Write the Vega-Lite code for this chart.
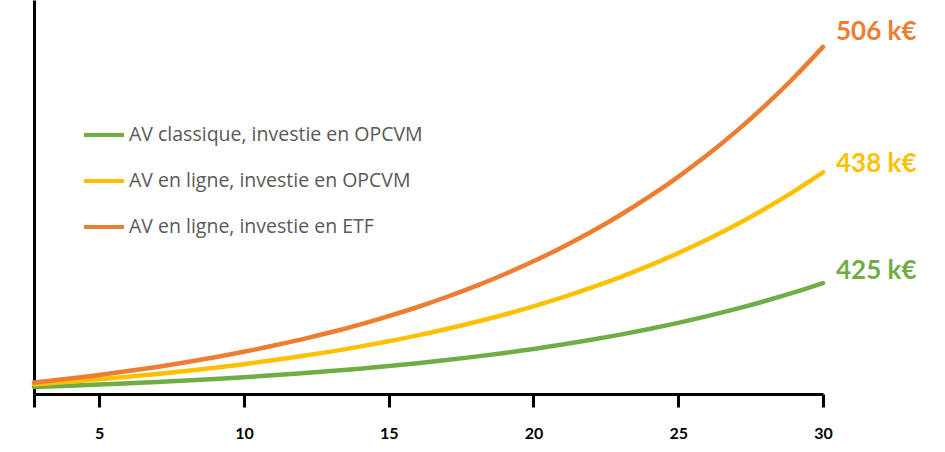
{
  "$schema": "https://vega.github.io/schema/vega-lite/v6.json",
  "width": 789,
  "height": 394,
  "autosize": {"type": "none"},
  "padding": {"left": 34, "top": 0, "right": 122, "bottom": 58},
  "background": "white",
  "config": {"view": {"stroke": null}, "font": "Open Sans"},
  "datasets": {
    "series": [
      {"annee": 2.75, "serie": "AV classique, investie en OPCVM", "valeur": 7.0},
      {"annee": 3, "serie": "AV classique, investie en OPCVM", "valeur": 7.25},
      {"annee": 4, "serie": "AV classique, investie en OPCVM", "valeur": 8.29},
      {"annee": 5, "serie": "AV classique, investie en OPCVM", "valeur": 9.42},
      {"annee": 6, "serie": "AV classique, investie en OPCVM", "valeur": 10.66},
      {"annee": 7, "serie": "AV classique, investie en OPCVM", "valeur": 12.0},
      {"annee": 8, "serie": "AV classique, investie en OPCVM", "valeur": 13.46},
      {"annee": 9, "serie": "AV classique, investie en OPCVM", "valeur": 15.05},
      {"annee": 10, "serie": "AV classique, investie en OPCVM", "valeur": 16.78},
      {"annee": 11, "serie": "AV classique, investie en OPCVM", "valeur": 18.66},
      {"annee": 12, "serie": "AV classique, investie en OPCVM", "valeur": 20.71},
      {"annee": 13, "serie": "AV classique, investie en OPCVM", "valeur": 22.94},
      {"annee": 14, "serie": "AV classique, investie en OPCVM", "valeur": 25.36},
      {"annee": 15, "serie": "AV classique, investie en OPCVM", "valeur": 28.0},
      {"annee": 16, "serie": "AV classique, investie en OPCVM", "valeur": 30.86},
      {"annee": 17, "serie": "AV classique, investie en OPCVM", "valeur": 33.98},
      {"annee": 18, "serie": "AV classique, investie en OPCVM", "valeur": 37.38},
      {"annee": 19, "serie": "AV classique, investie en OPCVM", "valeur": 41.07},
      {"annee": 20, "serie": "AV classique, investie en OPCVM", "valeur": 45.09},
      {"annee": 21, "serie": "AV classique, investie en OPCVM", "valeur": 49.47},
      {"annee": 22, "serie": "AV classique, investie en OPCVM", "valeur": 54.22},
      {"annee": 23, "serie": "AV classique, investie en OPCVM", "valeur": 59.4},
      {"annee": 24, "serie": "AV classique, investie en OPCVM", "valeur": 65.03},
      {"annee": 25, "serie": "AV classique, investie en OPCVM", "valeur": 71.16},
      {"annee": 26, "serie": "AV classique, investie en OPCVM", "valeur": 77.83},
      {"annee": 27, "serie": "AV classique, investie en OPCVM", "valeur": 85.08},
      {"annee": 28, "serie": "AV classique, investie en OPCVM", "valeur": 92.98},
      {"annee": 29, "serie": "AV classique, investie en OPCVM", "valeur": 101.56},
      {"annee": 30, "serie": "AV classique, investie en OPCVM", "valeur": 110.9, "etiquette": "425 k€"},
      {"annee": 2.75, "serie": "AV en ligne, investie en OPCVM", "valeur": 9.7},
      {"annee": 3, "serie": "AV en ligne, investie en OPCVM", "valeur": 10.2},
      {"annee": 4, "serie": "AV en ligne, investie en OPCVM", "valeur": 12.4},
      {"annee": 5, "serie": "AV en ligne, investie en OPCVM", "valeur": 14.7},
      {"annee": 6, "serie": "AV en ligne, investie en OPCVM", "valeur": 17.2},
      {"annee": 7, "serie": "AV en ligne, investie en OPCVM", "valeur": 20.0},
      {"annee": 8, "serie": "AV en ligne, investie en OPCVM", "valeur": 23.0},
      {"annee": 9, "serie": "AV en ligne, investie en OPCVM", "valeur": 26.3},
      {"annee": 10, "serie": "AV en ligne, investie en OPCVM", "valeur": 29.8},
      {"annee": 11, "serie": "AV en ligne, investie en OPCVM", "valeur": 33.7},
      {"annee": 12, "serie": "AV en ligne, investie en OPCVM", "valeur": 37.9},
      {"annee": 13, "serie": "AV en ligne, investie en OPCVM", "valeur": 42.4},
      {"annee": 14, "serie": "AV en ligne, investie en OPCVM", "valeur": 47.4},
      {"annee": 15, "serie": "AV en ligne, investie en OPCVM", "valeur": 52.8},
      {"annee": 16, "serie": "AV en ligne, investie en OPCVM", "valeur": 58.6},
      {"annee": 17, "serie": "AV en ligne, investie en OPCVM", "valeur": 65.0},
      {"annee": 18, "serie": "AV en ligne, investie en OPCVM", "valeur": 72.0},
      {"annee": 19, "serie": "AV en ligne, investie en OPCVM", "valeur": 79.5},
      {"annee": 20, "serie": "AV en ligne, investie en OPCVM", "valeur": 87.7},
      {"annee": 21, "serie": "AV en ligne, investie en OPCVM", "valeur": 96.6},
      {"annee": 22, "serie": "AV en ligne, investie en OPCVM", "valeur": 106.3},
      {"annee": 23, "serie": "AV en ligne, investie en OPCVM", "valeur": 116.9},
      {"annee": 24, "serie": "AV en ligne, investie en OPCVM", "valeur": 128.4},
      {"annee": 25, "serie": "AV en ligne, investie en OPCVM", "valeur": 140.9},
      {"annee": 26, "serie": "AV en ligne, investie en OPCVM", "valeur": 154.4},
      {"annee": 27, "serie": "AV en ligne, investie en OPCVM", "valeur": 169.2},
      {"annee": 28, "serie": "AV en ligne, investie en OPCVM", "valeur": 185.3},
      {"annee": 29, "serie": "AV en ligne, investie en OPCVM", "valeur": 202.7},
      {"annee": 30, "serie": "AV en ligne, investie en OPCVM", "valeur": 221.7, "etiquette": "438 k€"},
      {"annee": 2.75, "serie": "AV en ligne, investie en ETF", "valeur": 11.4},
      {"annee": 3, "serie": "AV en ligne, investie en ETF", "valeur": 12.2},
      {"annee": 4, "serie": "AV en ligne, investie en ETF", "valeur": 15.5},
      {"annee": 5, "serie": "AV en ligne, investie en ETF", "valeur": 19.0},
      {"annee": 6, "serie": "AV en ligne, investie en ETF", "valeur": 22.9},
      {"annee": 7, "serie": "AV en ligne, investie en ETF", "valeur": 27.1},
      {"annee": 8, "serie": "AV en ligne, investie en ETF", "valeur": 31.7},
      {"annee": 9, "serie": "AV en ligne, investie en ETF", "valeur": 36.7},
      {"annee": 10, "serie": "AV en ligne, investie en ETF", "valeur": 42.2},
      {"annee": 11, "serie": "AV en ligne, investie en ETF", "valeur": 48.2},
      {"annee": 12, "serie": "AV en ligne, investie en ETF", "valeur": 54.6},
      {"annee": 13, "serie": "AV en ligne, investie en ETF", "valeur": 61.7},
      {"annee": 14, "serie": "AV en ligne, investie en ETF", "valeur": 69.4},
      {"annee": 15, "serie": "AV en ligne, investie en ETF", "valeur": 77.9},
      {"annee": 16, "serie": "AV en ligne, investie en ETF", "valeur": 87.0},
      {"annee": 17, "serie": "AV en ligne, investie en ETF", "valeur": 97.0},
      {"annee": 18, "serie": "AV en ligne, investie en ETF", "valeur": 107.9},
      {"annee": 19, "serie": "AV en ligne, investie en ETF", "valeur": 119.8},
      {"annee": 20, "serie": "AV en ligne, investie en ETF", "valeur": 132.7},
      {"annee": 21, "serie": "AV en ligne, investie en ETF", "valeur": 146.8},
      {"annee": 22, "serie": "AV en ligne, investie en ETF", "valeur": 162.2},
      {"annee": 23, "serie": "AV en ligne, investie en ETF", "valeur": 179.0},
      {"annee": 24, "serie": "AV en ligne, investie en ETF", "valeur": 197.3},
      {"annee": 25, "serie": "AV en ligne, investie en ETF", "valeur": 217.2},
      {"annee": 26, "serie": "AV en ligne, investie en ETF", "valeur": 238.9},
      {"annee": 27, "serie": "AV en ligne, investie en ETF", "valeur": 262.6},
      {"annee": 28, "serie": "AV en ligne, investie en ETF", "valeur": 288.4},
      {"annee": 29, "serie": "AV en ligne, investie en ETF", "valeur": 316.5},
      {"annee": 30, "serie": "AV en ligne, investie en ETF", "valeur": 347.1, "etiquette": "506 k€"}
    ]
  },
  "data": {"name": "series"},
  "encoding": {
    "x": {
      "field": "annee",
      "type": "quantitative",
      "scale": {"domain": [2.75, 30], "nice": false, "zero": false},
      "axis": {
        "title": null,
        "values": [2.75, 5, 10, 15, 20, 25, 30],
        "labelExpr": "datum.value < 4 ? '' : datum.label",
        "grid": false,
        "domainColor": "black",
        "domainWidth": 3,
        "tickColor": "black",
        "tickWidth": 3,
        "tickSize": 13,
        "labelColor": "black",
        "labelFont": "Lato",
        "labelFontWeight": "bold",
        "labelFontSize": 16,
        "labelPadding": 18,
        "labelFlush": false
      }
    },
    "y": {
      "field": "valeur",
      "type": "quantitative",
      "scale": {"domain": [0, 394], "nice": false},
      "axis": {
        "title": null,
        "labels": false,
        "ticks": false,
        "grid": false,
        "domainColor": "black",
        "domainWidth": 3
      }
    },
    "color": {
      "field": "serie",
      "type": "nominal",
      "scale": {
        "domain": ["AV classique, investie en OPCVM", "AV en ligne, investie en OPCVM", "AV en ligne, investie en ETF"],
        "range": ["#70AD47", "#FFC000", "#ED7D31"]
      },
      "legend": {
        "title": null,
        "orient": "none",
        "legendX": 48,
        "legendY": 113,
        "symbolType": "stroke",
        "symbolSize": 1600,
        "symbolStrokeWidth": 4,
        "labelFont": "Open Sans",
        "labelFontSize": 19.5,
        "labelColor": "#595959",
        "labelOffset": 3,
        "rowPadding": 14,
        "labelLimit": 500
      }
    }
  },
  "layer": [
    {
      "mark": {"type": "line", "strokeWidth": 4.5, "interpolate": "monotone", "strokeCap": "round"}
    },
    {
      "transform": [{"filter": "datum.etiquette == '506 k€'"}],
      "mark": {"type": "text", "align": "left", "baseline": "middle", "dx": 13, "dy": -15, "font": "Lato", "fontWeight": "bold", "fontSize": 26},
      "encoding": {"text": {"field": "etiquette"}}
    },
    {
      "transform": [{"filter": "datum.etiquette == '438 k€'"}],
      "mark": {"type": "text", "align": "left", "baseline": "middle", "dx": 13, "dy": -8, "font": "Lato", "fontWeight": "bold", "fontSize": 26},
      "encoding": {"text": {"field": "etiquette"}}
    },
    {
      "transform": [{"filter": "datum.etiquette == '425 k€'"}],
      "mark": {"type": "text", "align": "left", "baseline": "middle", "dx": 13, "dy": -12, "font": "Lato", "fontWeight": "bold", "fontSize": 26},
      "encoding": {"text": {"field": "etiquette"}}
    }
  ]
}
